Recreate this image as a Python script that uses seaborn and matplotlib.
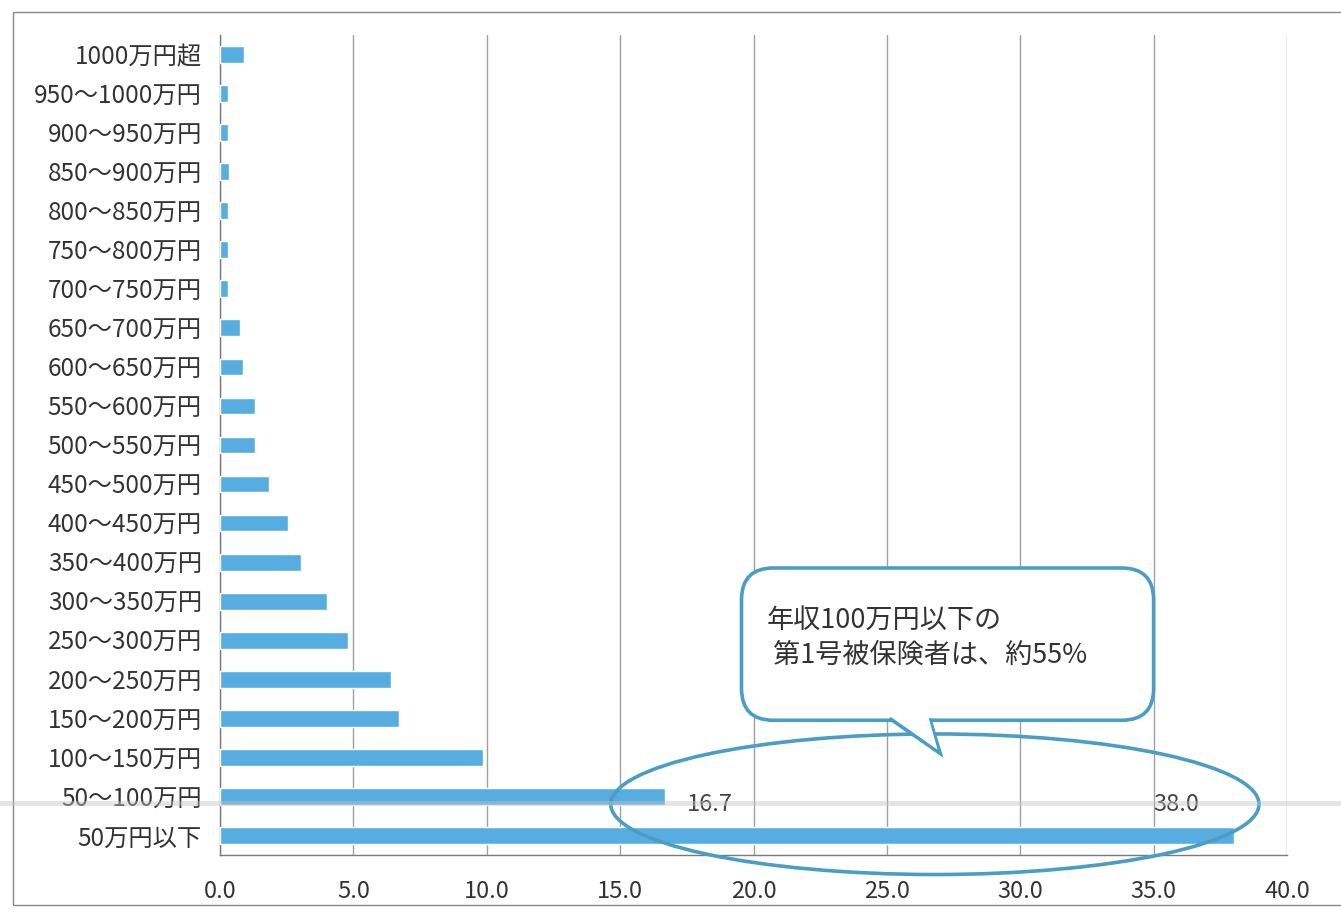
import matplotlib
matplotlib.use("Agg")
import matplotlib.pyplot as plt
import seaborn as sns
import pandas as pd
from matplotlib.patches import FancyBboxPatch, Ellipse, Polygon, Rectangle

sns.set_theme(style="white")
plt.rcParams['font.family'] = ['Noto Sans CJK JP', 'DejaVu Sans']

categories = ["1000万円超", "950～1000万円", "900～950万円", "850～900万円", "800～850万円",
              "750～800万円", "700～750万円", "650～700万円", "600～650万円", "550～600万円",
              "500～550万円", "450～500万円", "400～450万円", "350～400万円", "300～350万円",
              "250～300万円", "200～250万円", "150～200万円", "100～150万円", "50～100万円",
              "50万円以下"]
values = [0.9, 0.3, 0.3, 0.35, 0.3, 0.3, 0.3, 0.75, 0.85, 1.3, 1.3, 1.85, 2.55, 3.05,
          4.0, 4.8, 6.4, 6.7, 9.85, 16.7, 38.0]
xticks = [0, 5, 10, 15, 20, 25, 30, 35, 40]
labeled = {"50～100万円": "16.7", "50万円以下": "38.0"}
callout = "年収100万円以下の\n 第1号被保険者は、約55%"

df = pd.DataFrame({"cat": categories, "val": values})

W, H = 1341, 914
fig = plt.figure(figsize=(W / 100, H / 100), dpi=100)
fig.patch.set_facecolor("white")
ax = fig.add_axes([220 / W, 1 - 855 / H, (1287 - 220) / W, (855 - 35) / H])

sns.barplot(data=df, y="cat", x="val", order=categories, orient="h",
            color="#58ade0", saturation=1, width=0.43, ax=ax, zorder=3)

ax.set_xlim(0, 40)
ax.set_ylim(len(categories) - 0.5, -0.5)
ax.set_xticks(xticks)
ax.set_xticklabels([f"{t:.1f}" for t in xticks], fontsize=17, color="#333333")
ax.set_yticks(range(len(categories)))
ax.set_yticklabels(categories, fontsize=17.5, color="#333333")
ax.set_xlabel("")
ax.set_ylabel("")
ax.grid(axis="x", color="#a0a0a0", linewidth=1.0, zorder=0)
ax.set_axisbelow(True)

for s in ["top", "right"]:
    ax.spines[s].set_visible(False)
for s in ["left", "bottom"]:
    ax.spines[s].set_color("#7a7a7a")
    ax.spines[s].set_linewidth(1.0)

# y tick marks between categories
ax.set_yticks([i - 0.5 for i in range(len(categories) + 1)], minor=True)
ax.tick_params(axis="y", which="major", length=0, pad=13)
ax.tick_params(axis="y", which="minor", length=6, color="#7a7a7a", width=1)
ax.tick_params(axis="x", which="major", length=6, color="#7a7a7a", width=1, pad=12)

# faint horizontal scan line
fig.add_artist(plt.Line2D([0, 1], [1 - 803 / H, 1 - 803 / H], transform=fig.transFigure,
                          color="#c4c4c4", linewidth=3.5, alpha=0.45, zorder=10))

# data labels
for i, c in enumerate(categories):
    if c in labeled:
        xpos = 17.5 if c == "50～100万円" else 35.0
        ax.text(xpos, 19.2, labeled[c], fontsize=17, color="#444444",
                va="center", ha="left", zorder=6)

blue = "#4a9dc4"
# ellipse
ell = Ellipse((26.8, 19.2), 24.3, 3.6, fill=False, edgecolor=blue, linewidth=2.6,
              zorder=5, clip_on=False)
ax.add_patch(ell)

# callout box
box = FancyBboxPatch((19.55, 13.15), 35.0 - 19.55, 17.05 - 13.15,
                     boxstyle="round,pad=0,rounding_size=1.2",
                     mutation_aspect=0.68,
                     facecolor="white", edgecolor=blue, linewidth=2.6, zorder=7,
                     clip_on=False)
ax.add_patch(box)
tail = Polygon([(25.1, 17.0), (27.0, 17.9), (26.6, 17.0)], closed=False,
               facecolor="white", edgecolor=blue, linewidth=2.6, zorder=8,
               clip_on=False, joinstyle="miter")
ax.add_patch(tail)
ax.add_patch(Polygon([(25.15, 16.95), (26.9, 17.8), (26.55, 16.95)], closed=True,
                     facecolor="white", edgecolor="none", zorder=8, clip_on=False))
ax.text(20.5, 14.95, callout, fontsize=19.5, color="#333333", va="center", ha="left",
        linespacing=1.3, zorder=9)

# outer frame
fig.patches.append(Rectangle((13 / W, 1 - 905 / H), (1345 - 13) / W, (905 - 12) / H,
                             transform=fig.transFigure, fill=False,
                             edgecolor="#8a8a8a", linewidth=1.0))

fig.savefig("out.png", dpi=100, facecolor="white")
